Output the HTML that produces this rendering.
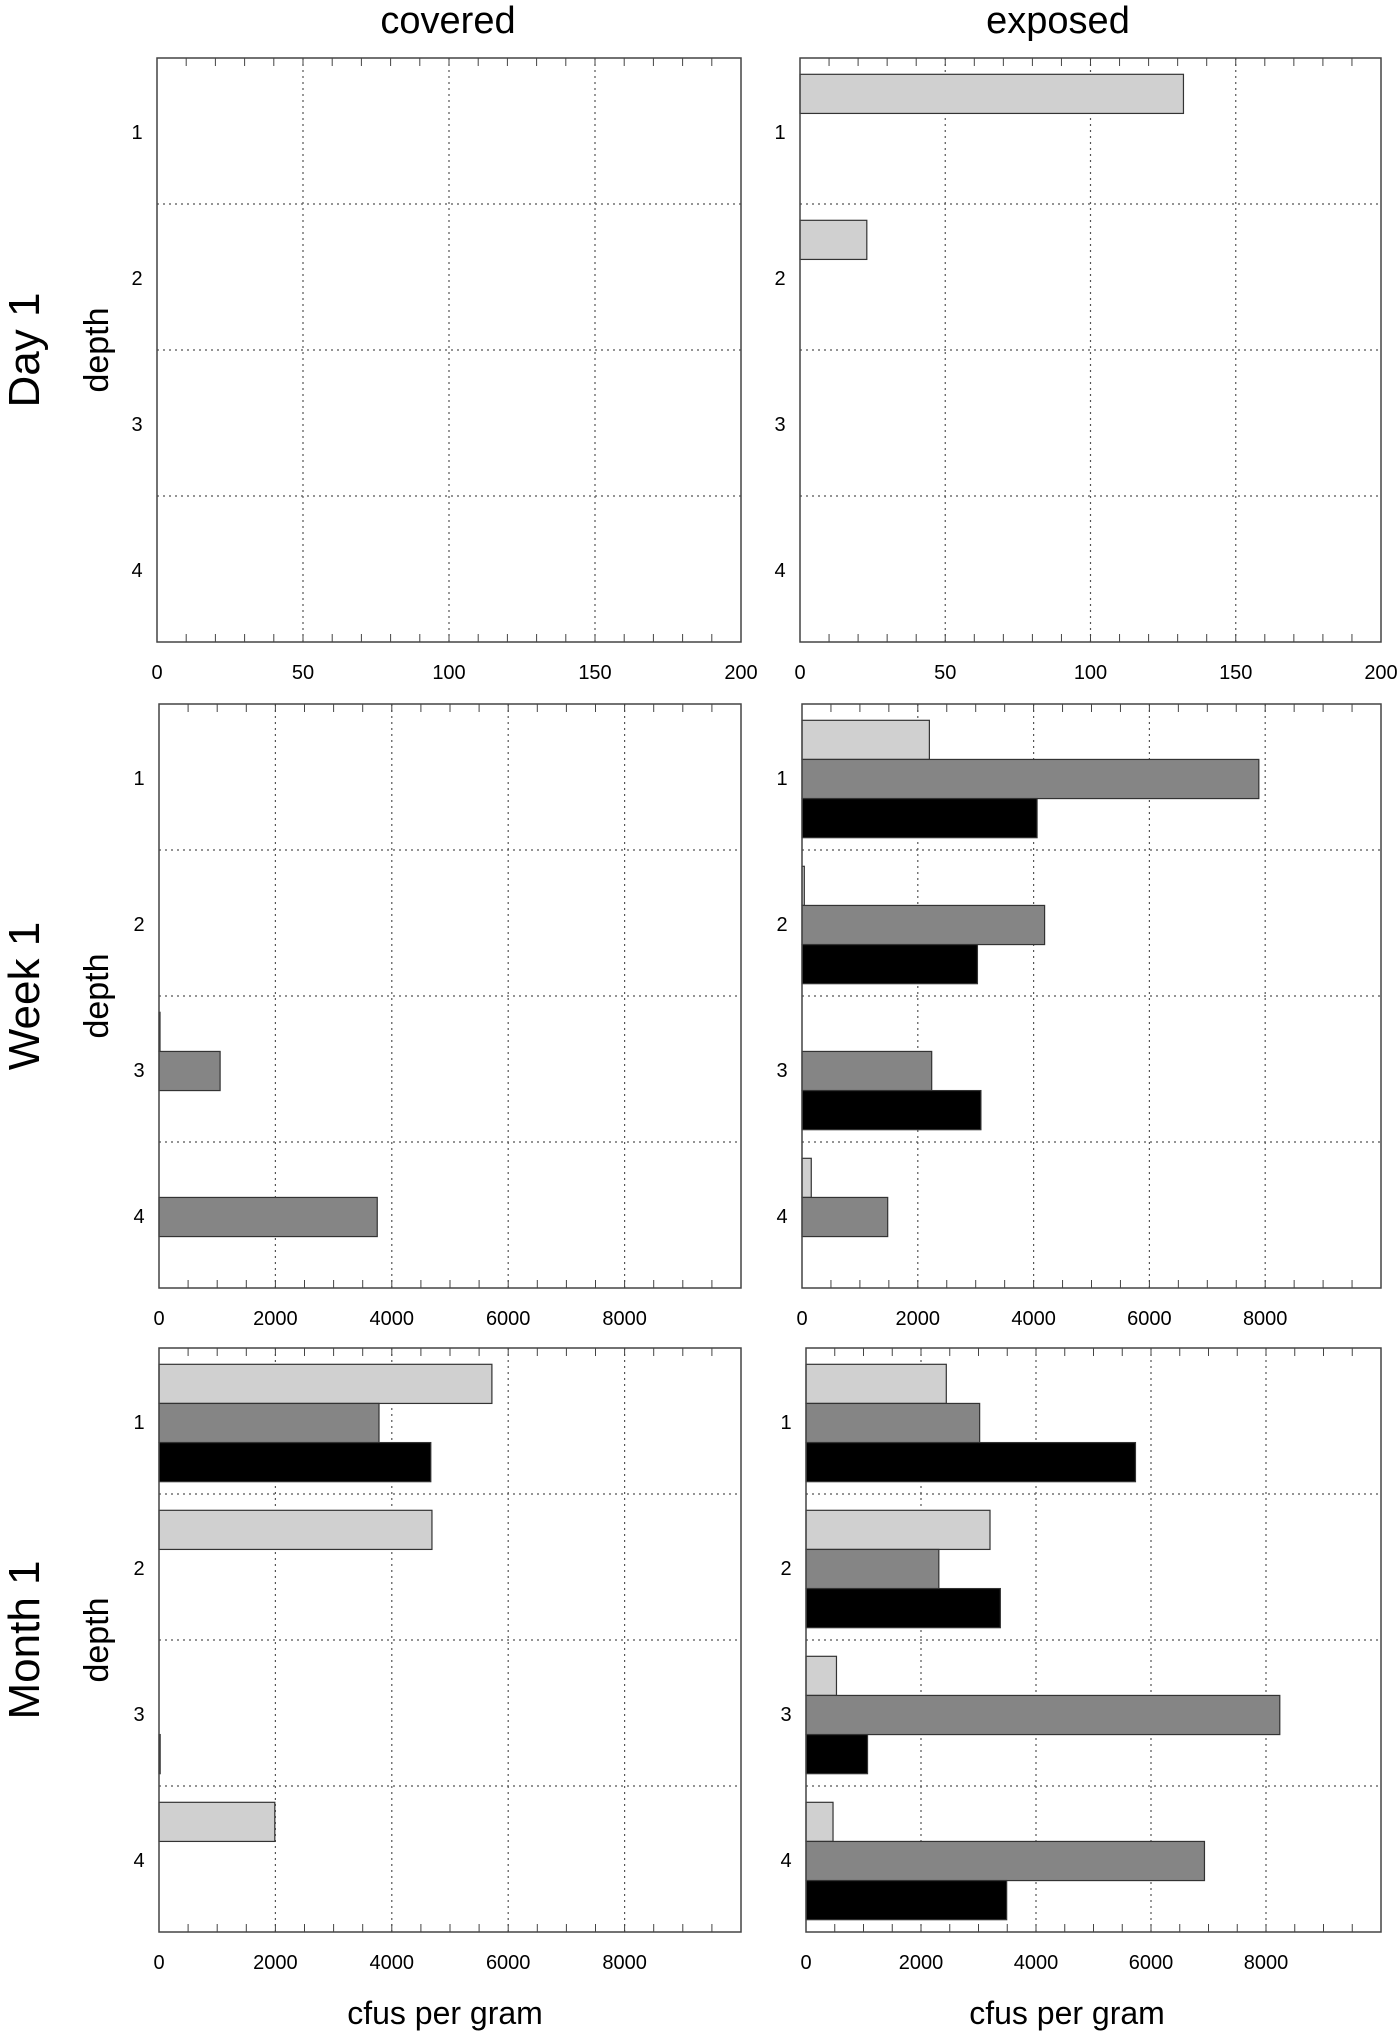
<!DOCTYPE html>
<html><head><meta charset="utf-8"><style>
html,body{margin:0;padding:0;background:#fff;}
svg{display:block;font-family:"Liberation Sans",Arial,sans-serif;}
</style></head><body>
<svg id="fig" width="1400" height="2034" viewBox="0 0 1400 2034" xmlns="http://www.w3.org/2000/svg">
<text x="448" y="33" font-size="38" text-anchor="middle">covered</text>
<text x="1058" y="33" font-size="38" text-anchor="middle">exposed</text>
<text x="445" y="2024" font-size="32" text-anchor="middle">cfus per gram</text>
<text x="1067" y="2024" font-size="32" text-anchor="middle">cfus per gram</text>
</svg>
<script>
const depths = ["1","2","3","4"];
const rowNames = ["Day 1","Week 1","Month 1"];
const axisMax = [200, 10000, 10000];
const majorTicks = [[0,50,100,150,200],[0,2000,4000,6000,8000],[0,2000,4000,6000,8000]];
const minorStep = [10, 500, 500];
// series: light, mid, black ; values per depth 1..4
const day1CoveredLight = [0,0,0,0];
const day1CoveredMid = [0,0,0,0];
const day1CoveredBlack = [0,0,0,0];
const day1ExposedLight = [132,23,0,0];
const day1ExposedMid = [0,0,0,0];
const day1ExposedBlack = [0,0,0,0];
const week1CoveredLight = [0,0,15,0];
const week1CoveredMid = [0,0,1050,3750];
const week1CoveredBlack = [0,0,0,0];
const week1ExposedLight = [2200,40,0,160];
const week1ExposedMid = [7890,4190,2240,1480];
const week1ExposedBlack = [4060,3030,3090,0];
const month1CoveredLight = [5720,4690,0,1990];
const month1CoveredMid = [3780,0,0,0];
const month1CoveredBlack = [4670,0,20,0];
const month1ExposedLight = [2440,3200,530,470];
const month1ExposedMid = [3020,2310,8240,6930];
const month1ExposedBlack = [5730,3380,1070,3490];

const svg = document.getElementById('fig');
const NS = "http://www.w3.org/2000/svg";
function mk(tag, attrs, parent){const e=document.createElementNS(NS,tag);for(const k in attrs)e.setAttribute(k,attrs[k]);(parent||svg).appendChild(e);return e;}

const rowTops=[58,704,1348], panelH=584;
const panelLeft=[[157,800],[159,802],[159,806]];
const panelRight=[[741,1381],[741,1381],[741,1381]];
const colNames=["covered","exposed"];
const data=[
 [[day1CoveredLight,day1CoveredMid,day1CoveredBlack],[day1ExposedLight,day1ExposedMid,day1ExposedBlack]],
 [[week1CoveredLight,week1CoveredMid,week1CoveredBlack],[week1ExposedLight,week1ExposedMid,week1ExposedBlack]],
 [[month1CoveredLight,month1CoveredMid,month1CoveredBlack],[month1ExposedLight,month1ExposedMid,month1ExposedBlack]]
];
const fills=["#d0d0d0","#858585","#000000"];
const seriesNames=["light","mid","black"];

for(let r=0;r<3;r++){
  const top=rowTops[r], cy=top+panelH/2;
  const rl=mk('text',{x:0,y:0,'font-size':44,'text-anchor':'middle',transform:`translate(39,${cy}) rotate(-90)`});
  
  
  rl.textContent=rowNames[r];
  const dl=mk('text',{x:0,y:0,'font-size':34,'text-anchor':'middle',transform:`translate(108,${cy}) rotate(-90)`});
  
  
  dl.textContent='depth';
  for(let c=0;c<2;c++){
    const left=panelLeft[r][c], panelW=panelRight[r][c]-left;
    const g=mk('g',{});
    
    
    const xs=v=>left+v/axisMax[r]*panelW;
    const band=panelH/4;
    majorTicks[r].forEach(t=>{
      if(t>0&&t<axisMax[r]){
        const l=mk('line',{x1:xs(t),x2:xs(t),y1:top,y2:top+panelH,stroke:'#555','stroke-width':1.2,'stroke-dasharray':'2,4'},g);
        
        
      }
    });
    for(let i=1;i<4;i++){
      const l=mk('line',{x1:left,x2:left+panelW,y1:top+band*i,y2:top+band*i,stroke:'#555','stroke-width':1.2,'stroke-dasharray':'2,4'},g);
      
      
    }
    for(let v=minorStep[r];v<axisMax[r];v+=minorStep[r]){
      const x=xs(v);
      const t1=mk('line',{x1:x,x2:x,y1:top+panelH,y2:top+panelH-8,stroke:'#444','stroke-width':1},g);
      
      
      const t2=mk('line',{x1:x,x2:x,y1:top,y2:top+8,stroke:'#444','stroke-width':1},g);
      
      
    }
    majorTicks[r].forEach(t=>{
      const tl=mk('text',{x:xs(t),y:top+panelH+37,'font-size':20,'text-anchor':'middle'},g);
      
      
      tl.textContent=String(t);
    });
    depths.forEach((d,i)=>{
      const yl=mk('text',{x:left-20,y:top+band*(i+0.5)+8,'font-size':20,'text-anchor':'middle'},g);
      
      
      yl.textContent=d;
    });
    const bh=band*0.268;
    for(let s=0;s<3;s++){
      data[r][c][s].forEach((v,i)=>{
        if(v<=0)return;
        const y0=top+band*(i+0.5)+2-1.5*bh+s*bh;
        const b=mk('rect',{x:xs(0),y:y0,width:Math.max(xs(v)-xs(0),1),height:bh,fill:fills[s],stroke:'#333','stroke-width':1.2},g);
        
        
      });
    }
    const fr=mk('rect',{x:left,y:top,width:panelW,height:panelH,fill:'none',stroke:'#444','stroke-width':1.5},g);
    
    
  }
}
</script>
</body></html>
